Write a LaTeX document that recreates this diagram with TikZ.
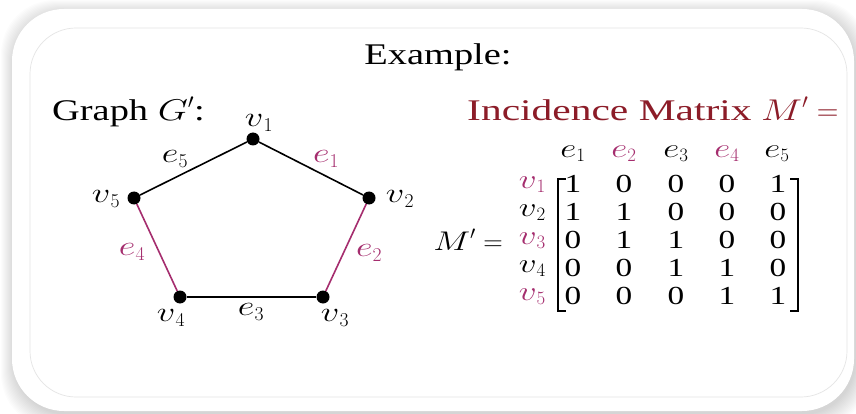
\RequirePackage{fix-cm}
\documentclass[tikz,border=0pt]{standalone}
\usepackage{fontspec}
\setmainfont{Liberation Serif}[FakeStretch=1.28]
\usepackage{graphicx}
\definecolor{mag}{RGB}{165,45,110}
\definecolor{ttl}{RGB}{140,28,40}
\newcommand\mi[1]{\scalebox{1.3}[1]{$#1$}}
\newcommand\V[1]{$\mi{v}_{#1}$}
\newcommand\E[1]{$\mi{e}_{#1}$}
\tikzset{
  vdot/.style={circle,fill=black,inner sep=0pt,minimum size=13pt},
  lbl/.style={font=\fontsize{28}{32}\selectfont,inner sep=0pt},
  plainedge/.style={line width=1.6pt,draw=black},
  magedge/.style={line width=1.6pt,draw=mag},
  ttlfont/.style={font=\fontsize{30}{34}\selectfont,inner sep=0pt},
  ent/.style={font=\fontsize{26}{30}\selectfont,inner sep=0pt},
  mlbl/.style={font=\fontsize{27}{31}\selectfont,inner sep=0pt},
  brk/.style={line width=2.4pt,line cap=rect},
}
\begin{document}
\begin{tikzpicture}[x=1pt,y=-1pt]
\clip (0,0) rectangle (856,414);
\fill[white] (0,0) rectangle (856,414);
% shadow
\foreach \i in {0,...,13} {
  \fill[black,opacity=0.011,rounded corners=54pt] ({12-\i+2},{9-\i+4}) rectangle ({854+\i+2},{411+\i+4});
}
\fill[white,rounded corners=52pt] (12,9) rectangle (854,411);
\draw[black!10,line width=0.7pt,rounded corners=46pt] (30,28) rectangle (847,397);

% titles
\node[ttlfont,anchor=base] (title) at (438,65) {Example:};
\node[ttlfont,anchor=base west] (gtitle) at (52,121) {Graph $\mi{G}'$:};
\node[ttlfont,anchor=base west,text=ttl] (mtitle) at (467,121) {\scalebox{1.08}[1]{Incidence Matrix} $\mi{M}' =$};

% graph
\node[vdot] (v1) at (253,139) {};
\node[vdot] (v2) at (369,198) {};
\node[vdot] (v3) at (323,297) {};
\node[vdot] (v4) at (180,297) {};
\node[vdot] (v5) at (134,198) {};
\draw[plainedge] (v1) -- (v2);
\draw[magedge] (v2) -- (v3);
\draw[plainedge] (v3) -- (v4);
\draw[magedge] (v4) -- (v5);
\draw[plainedge] (v5) -- (v1);

\node[lbl] (lv1) at (259,123) {\V{1}};
\node[lbl] (lv2) at (400,199) {\V{2}};
\node[lbl] (lv3) at (335,318) {\V{3}};
\node[lbl] (lv4) at (171,318) {\V{4}};
\node[lbl] (lv5) at (106,199) {\V{5}};
\node[lbl,text=mag] (le1) at (326,159) {\E{1}};
\node[lbl,text=mag] (le2) at (369,253) {\E{2}};
\node[lbl] (le3) at (251,312) {\E{3}};
\node[lbl,text=mag] (le4) at (132,252) {\E{4}};
\node[lbl] (le5) at (175,159) {\E{5}};

% matrix
\node[mlbl,anchor=east] (meq) at (503,240) {$\mi{M}' =$};
\node[mlbl,anchor=east,text=mag] (r1) at (546,185) {\V{1}};
\node[mlbl,anchor=east] (r2) at (546,213) {\V{2}};
\node[mlbl,anchor=east,text=mag] (r3) at (546,241) {\V{3}};
\node[mlbl,anchor=east] (r4) at (546,269) {\V{4}};
\node[mlbl,anchor=east,text=mag] (r5) at (546,297) {\V{5}};
\node[mlbl] (c1) at (573,154) {\E{1}};
\node[mlbl,text=mag] (c2) at (624,154) {\E{2}};
\node[mlbl] (c3) at (676,154) {\E{3}};
\node[mlbl,text=mag] (c4) at (727,154) {\E{4}};
\node[mlbl] (c5) at (777,154) {\E{5}};

\draw[brk] (565,179) -- (558,179) -- (558,311) -- (565,311);
\draw[brk] (791,179) -- (798,179) -- (798,311) -- (791,311);

\foreach \r/\y/\a/\b/\c/\d/\e in {1/184/1/0/0/0/1, 2/212/1/1/0/0/0, 3/240/0/1/1/0/0, 4/268/0/0/1/1/0, 5/296/0/0/0/1/1} {
  \node[ent] (m\r a) at (573,\y) {\a};
  \node[ent] (m\r b) at (624,\y) {\b};
  \node[ent] (m\r c) at (676,\y) {\c};
  \node[ent] (m\r d) at (727,\y) {\d};
  \node[ent] (m\r e) at (778,\y) {\e};
}
\end{tikzpicture}
\end{document}
